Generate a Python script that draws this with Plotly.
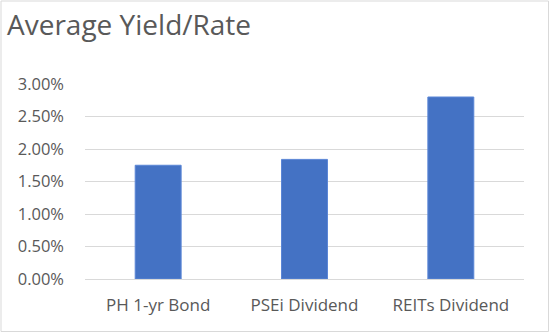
import plotly.graph_objects as go

categories = ["PH 1-yr Bond", "PSEi Dividend", "REITs Dividend"]
values = [0.0175, 0.0184, 0.0280]
tick_vals = [0, 0.005, 0.01, 0.015, 0.02, 0.025, 0.03]
tick_text = ["0.00%", "0.50%", "1.00%", "1.50%", "2.00%", "2.50%", "3.00%"]

W, H = 550, 333
ml, mr, mt, mb = 85, 26, 84, 54

fig = go.Figure(go.Bar(
    x=categories, y=values,
    marker=dict(color="#4472C4", line=dict(color="#5B86D6", width=1)),
))

font = "Open Sans, Noto Sans, sans-serif"
fig.update_layout(
    width=W, height=H,
    margin=dict(l=ml, r=mr, t=mt, b=mb),
    paper_bgcolor="white", plot_bgcolor="white",
    bargap=0.686,
    showlegend=False,
    font=dict(family=font, color="#595959", size=16),
    title=dict(text="Average Yield/Rate", x=7 / W, xanchor="left", xref="container",
               y=1 - 25 / H, yanchor="middle", yref="container",
               font=dict(size=28, color="#595959", family=font)),
    xaxis=dict(showgrid=False, showline=False, ticks="", ticklabelstandoff=14,
               tickfont=dict(size=17, color="#595959")),
    yaxis=dict(range=[0, 0.03], tickvals=tick_vals, ticktext=tick_text,
               showgrid=True, gridcolor="#D9D9D9", gridwidth=1,
               zeroline=True, zerolinecolor="#D9D9D9", zerolinewidth=1,
               showline=False, ticks="", ticklabelstandoff=20,
               tickfont=dict(size=16.5, color="#595959")),
    shapes=[dict(type="rect", xref="paper", yref="paper",
                 x0=-(ml - 1) / (W - ml - mr), x1=1 + (mr - 1.5) / (W - ml - mr),
                 y0=-(mb - 1.5) / (H - mt - mb), y1=1 + (mt - 1) / (H - mt - mb),
                 line=dict(color="#D9D9D9", width=1), layer="below")],
)

fig.write_html("out.html")
